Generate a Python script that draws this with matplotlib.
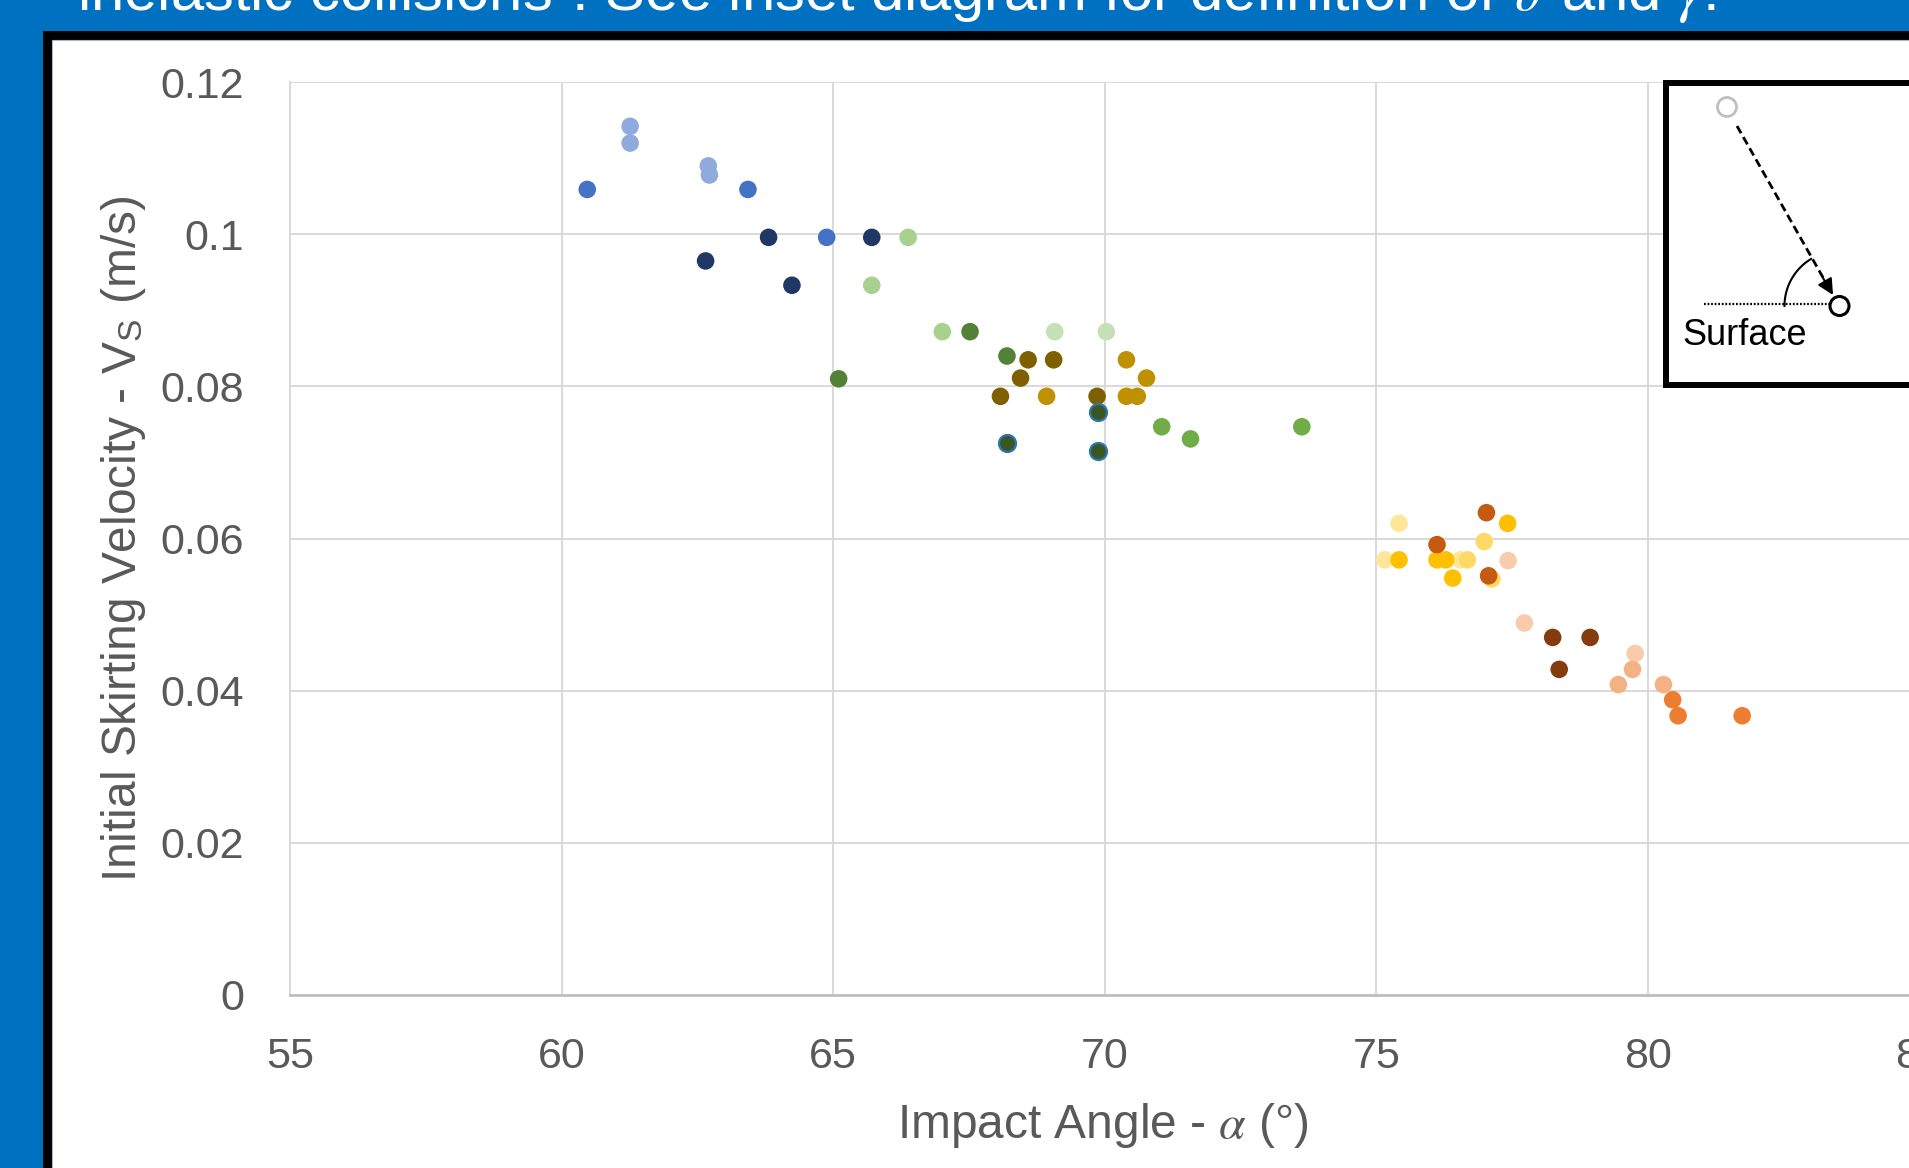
import numpy as np
import matplotlib
matplotlib.use("Agg")
import matplotlib.pyplot as plt
from matplotlib.patches import Rectangle, Circle

plt.rcParams['font.family'] = ['Liberation Sans', 'DejaVu Sans']
plt.rcParams['mathtext.fontset'] = 'stix'

# impact angle (deg) / initial skirting velocity (m/s), one pair of lists per colour group
navy_x = [63.81, 65.71, 62.65, 64.24]
navy_y = [0.0996, 0.0996, 0.0965, 0.0933]
blue_x = [60.47, 63.43, 64.88]
blue_y = [0.1059, 0.1059, 0.0996]
lblue_x = [61.26, 61.26, 62.70, 62.72]
lblue_y = [0.1142, 0.1120, 0.1090, 0.1078]
lgreen_x = [66.38, 65.71, 67.01]
lgreen_y = [0.0996, 0.0933, 0.0872]
pgreen_x = [69.08, 70.03]
pgreen_y = [0.0872, 0.0872]
dgreen_x = [67.52, 68.20, 65.10]
dgreen_y = [0.0872, 0.0840, 0.0810]
green_x = [71.05, 71.58, 73.63]
green_y = [0.0747, 0.0731, 0.0747]
ring_x = [69.87, 68.20, 69.87]
ring_y = [0.0767, 0.0726, 0.0715]
olive_x = [68.59, 69.06, 68.45, 68.08, 69.86]
olive_y = [0.0835, 0.0835, 0.0811, 0.0787, 0.0787]
gold_x = [70.40, 70.77, 68.93, 70.40, 70.60]
gold_y = [0.0835, 0.0811, 0.0787, 0.0787, 0.0787]
yellow_x = [77.42, 75.42, 76.12, 76.28, 76.41]
yellow_y = [0.0620, 0.0572, 0.0572, 0.0572, 0.0548]
lyellow_x = [75.42, 75.16, 76.55]
lyellow_y = [0.0620, 0.0572, 0.0572]
myellow_x = [76.99, 76.68, 77.13]
myellow_y = [0.0596, 0.0572, 0.0547]
rust_x = [77.03, 76.12, 77.07]
rust_y = [0.0634, 0.0592, 0.0551]
brown_x = [78.25, 78.94, 78.37]
brown_y = [0.0470, 0.0470, 0.0428]
lpeach_x = [77.43, 77.73, 79.77]
lpeach_y = [0.0571, 0.0489, 0.0449]
peach_x = [79.72, 79.46, 80.29]
peach_y = [0.0428, 0.0408, 0.0408]
orange_x = [80.46, 80.56, 81.74]
orange_y = [0.0388, 0.0367, 0.0367]

groups = [
    (lblue_x, lblue_y, '#8FAADC'),
    (blue_x, blue_y, '#4472C4'),
    (navy_x, navy_y, '#1F3864'),
    (lgreen_x, lgreen_y, '#A9D18E'),
    (pgreen_x, pgreen_y, '#C5E0B4'),
    (dgreen_x, dgreen_y, '#548235'),
    (green_x, green_y, '#70AD47'),
    (olive_x, olive_y, '#7F6000'),
    (gold_x, gold_y, '#BF9000'),
    (lyellow_x, lyellow_y, '#FFE699'),
    (myellow_x, myellow_y, '#FFD966'),
    (yellow_x, yellow_y, '#FFC000'),
    (rust_x, rust_y, '#C55A11'),
    (lpeach_x, lpeach_y, '#F8CBAD'),
    (brown_x, brown_y, '#843C0C'),
    (peach_x, peach_y, '#F4B183'),
    (orange_x, orange_y, '#ED7D31'),
]

x_ticks = [55, 60, 65, 70, 75, 80, 85]
y_ticks = [0, 0.02, 0.04, 0.06, 0.08, 0.1, 0.12]
y_tick_labels = ['0', '0.02', '0.04', '0.06', '0.08', '0.1', '0.12']

W, H = 1909, 1168
fig = plt.figure(figsize=(W / 100, H / 100), dpi=100)
fig.patch.set_facecolor('#0070C0')

# slide background: framed white panel + title line running off the top
bg = fig.add_axes([0, 0, 1, 1], zorder=0)
bg.set_xlim(0, W)
bg.set_ylim(H, 0)
bg.axis('off')
bg.add_patch(Rectangle((43, 31), W, H, fc='black', ec='none'))
bg.add_patch(Rectangle((52, 40), W, H, fc='white', ec='#A9B8CC', lw=0.8))
bg.text(77, 10, "inelastic collisions\u201d. See inset diagram for definition of "
        r"$\vartheta$ and $\gamma$.", color='white', fontsize=43,
        ha='left', va='baseline')

# scatter chart
ax = fig.add_axes([290.2 / W, 1 - 994.9 / H, 1629 / W, 912.7 / H], zorder=1)
ax.patch.set_alpha(0)
for gx, gy, c in groups:
    ax.scatter(gx, gy, s=160, color=c, edgecolors='none', zorder=3)
ax.scatter(ring_x, ring_y, s=150, color='#385723', edgecolors='#2E75B6',
           linewidths=1.6, zorder=3)

ax.set_xlim(55, 85)
ax.set_ylim(0, 0.12)
ax.set_xticks(x_ticks)
ax.set_yticks(y_ticks)
ax.set_yticklabels(y_tick_labels)
ax.grid(True, color='#D9D9D9', lw=1.4)
ax.set_axisbelow(True)
for s in ['top', 'right']:
    ax.spines[s].set_visible(False)
ax.spines['left'].set_color('#D9D9D9')
ax.spines['left'].set_linewidth(1.4)
ax.spines['bottom'].set_color('#BFBFBF')
ax.spines['bottom'].set_linewidth(2)
ax.tick_params(length=0, labelsize=31, labelcolor='#595959')
ax.tick_params(axis='y', pad=33)
ax.tick_params(axis='x', pad=30)

ax.set_xlabel(r"Impact Angle - $\alpha$ (°)", fontsize=34.5, color='#595959')
ax.xaxis.set_label_coords(0.499, -0.1436)
ax.xaxis.label.set_verticalalignment('center')
ax.set_ylabel(r"Initial Skirting Velocity - V$_\mathregular{S}$ (m/s)",
              fontsize=34.5, color='#595959')
ax.yaxis.set_label_coords(-0.1026, 0.5)
ax.yaxis.label.set_verticalalignment('center')

# inset sketch of the impact geometry
fg = fig.add_axes([0, 0, 1, 1], zorder=2)
fg.set_xlim(0, W)
fg.set_ylim(H, 0)
fg.axis('off')
fg.add_patch(Rectangle((1666, 82.5), 400, 302, fc='white', ec='black', lw=4.3))
fg.add_patch(Circle((1727, 107), 9.5, fc='none', ec='#BFBFBF', lw=2))
fg.plot([1737, 1825], [126, 281], color='black', lw=2, ls=(0, (3, 1.6)))
fg.annotate('', xy=(1833, 295), xytext=(1823, 278),
            arrowprops=dict(arrowstyle='-|>', color='black', lw=1.5,
                            mutation_scale=24, shrinkA=0, shrinkB=0))
fg.plot([1704, 1829], [304.3, 304.3], color='black', lw=1.6, ls=(0, (0.8, 0.8)))
t = np.linspace(np.radians(121), np.pi, 40)
fg.plot(1839.5 + 55 * np.cos(t), 306 - 55 * np.sin(t), color='black', lw=1.5)
fg.add_patch(Circle((1839.5, 306), 9.5, fc='white', ec='black', lw=2.2))
fg.text(1682, 345, 'Surface', fontsize=26, color='black', va='baseline')

fig.savefig('out.png', dpi=100, facecolor=fig.get_facecolor())
